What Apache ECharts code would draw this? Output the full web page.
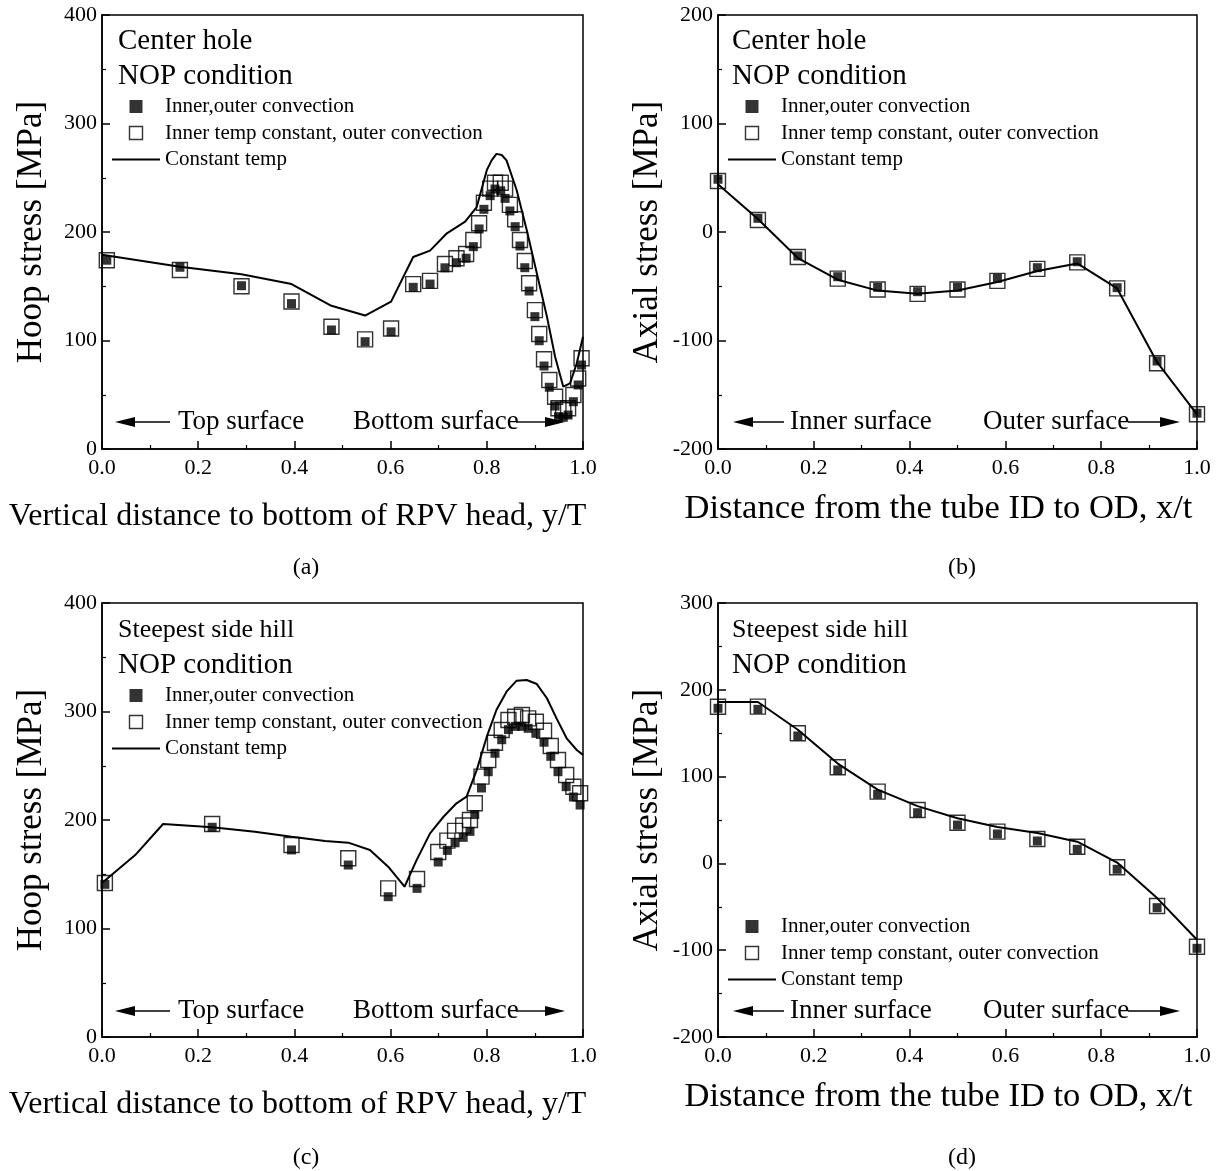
<!DOCTYPE html>
<html><head><meta charset="utf-8">
<script src="https://cdn.jsdelivr.net/npm/echarts@6/dist/echarts.min.js"></script>
<style>html,body{margin:0;padding:0;background:#fff}#c{width:1221px;height:1171px}</style>
</head><body><div id="c"></div>
<script>
// ---------- Panel (a): Center hole, hoop stress ----------
const aX = [0.01,0.162,0.29,0.394,0.477,0.547,0.601,0.647,0.682,0.713,0.737,0.757,0.772,0.784,0.794,0.807,0.817,0.829,0.838,0.848,0.859,0.869,0.879,0.888,0.9,0.909,0.919,0.93,0.942,0.949,0.959,0.969,0.98,0.99,0.997];
const aFilled = [174,167.5,150.5,134,109.7,98.9,108,149,152,167,171.7,175.8,186.5,202.8,220.9,233.5,239.6,238,231,219.4,204.9,187.1,167.1,145.6,122,99.8,76.5,56.9,39.6,29.8,29.2,31.3,43.6,59,77.4];
const aOpen = [174,165,150,136,112.7,101,111,152,155,170.5,175.8,179.7,192.6,208,227,240,245.4,245.4,240,225,211.7,192.6,173.3,152.7,128,106,82.7,63.6,48.2,37.5,36,37.5,49.8,65,83.6];
const aLineX = [0,0.162,0.29,0.394,0.477,0.547,0.601,0.647,0.682,0.717,0.755,0.779,0.8,0.81,0.82,0.831,0.841,0.862,0.883,0.904,0.925,0.942,0.959,0.973,0.987,1.0];
const aLine = [179,168,161,152,132,123,135.8,177,182.8,198.8,209.5,223,257,266,272,271,266,238.7,201.8,162,122,85,57.4,60.5,79,103.5];

// ---------- Panel (b): Center hole, axial stress ----------
const bX = [0,0.0833,0.1667,0.25,0.3333,0.4167,0.5,0.5833,0.6667,0.75,0.8333,0.9167,1.0];
const bFilled = [48.6,12.6,-22.1,-41.2,-51,-55,-51,-42.7,-32.9,-27.4,-51.3,-118.9,-167];
const bOpen = [47,11,-23,-43,-53,-57,-53,-45,-34,-28,-52,-121,-168];
const bLine = [44,12,-24,-44,-54,-57,-54,-46,-36,-29,-52,-120,-168];

// ---------- Panel (c): Steepest side hill, hoop stress ----------
const cX = [0.006,0.229,0.394,0.512,0.595,0.655,0.699,0.718,0.734,0.751,0.765,0.775,0.789,0.803,0.817,0.831,0.845,0.859,0.873,0.886,0.902,0.919,0.933,0.948,0.965,0.98,0.994];
const cFilled = [140.7,193.3,172.4,158.5,129.3,137,161.3,172,179,184,189.5,205,229.5,244.5,261.5,274,283.3,286.3,286.3,284.5,279.9,271.7,258.7,244.5,230.7,221.2,213.8];
const cOpen = [142,196.3,177,164.7,137,145.6,170.5,181,190,195,200,215.4,240,255.3,271.2,283,292.2,295.2,296.8,293.7,290.6,282.3,268.2,255.3,241.5,230.7,224.6];
const cLineX = [0,0.069,0.127,0.229,0.318,0.394,0.464,0.512,0.557,0.595,0.629,0.654,0.682,0.71,0.737,0.758,0.779,0.8,0.82,0.841,0.862,0.883,0.904,0.925,0.945,0.966,0.987,1.0];
const cLine = [142,167.7,196.3,193.3,189.2,184.6,180.6,179.1,172.4,157,138.5,163,187.7,203,215.4,221.5,246,276.8,301.4,318.3,328.4,329,325.3,312.2,293.7,275.3,264.5,260];

// ---------- Panel (d): Steepest side hill, axial stress ----------
const dX = [0,0.0833,0.1667,0.25,0.3333,0.4167,0.5,0.5833,0.6667,0.75,0.8333,0.9167,1.0];
const dFilled = [178.7,177.5,146.8,107.6,79.6,58.4,44.2,33.9,25.8,16.2,-6.8,-51,-97.8];
const dOpen = [180.5,180.6,149.9,110.7,82.7,61.5,46.9,36.6,28.1,19.2,-4.5,-49,-96];
const dLine = [186,186,154,115,85,66,52,42,35,25,1,-40,-88];

// ---------- Labels ----------
const S_FILLED = 'Inner,outer convection';
const S_OPEN = 'Inner temp constant, outer convection';
const S_LINE = 'Constant temp';
const xTitleHoop = 'Vertical distance to bottom of RPV head, y/T';
const xTitleAxial = 'Distance from the tube ID to OD, x/t';
const yTitleHoop = 'Hoop stress [MPa]';
const yTitleAxial = 'Axial stress [MPa]';
const panelTitles = [['Center hole','NOP condition'],['Center hole','NOP condition'],['Steepest side hill','NOP condition'],['Steepest side hill','NOP condition']];
const captions = ['(a)','(b)','(c)','(d)'];
const yRanges = [[0,400,100],[-200,200,100],[0,400,100],[-200,300,100]];

const F = 'Liberation Serif';
const zip = (xs, ys) => xs.map((x,i)=>[x, ys[i]]);

const grids = [
  {left:102, top:15, width:481, height:434},
  {left:718, top:15, width:479, height:434},
  {left:102, top:603, width:481, height:434},
  {left:718, top:603, width:479, height:434}
];

function xAxis(gi, name, shift, fs, gap){
  return {type:'value', gridIndex:gi, min:0, max:1, interval:0.2, name, nameLocation:'middle', nameGap:gap,
    nameTextStyle:{fontFamily:F, fontSize:fs, color:'#000', padding:[0, 2*shift, 0, 0]},
    axisLine:{show:true, onZero:false, lineStyle:{color:'#000', width:1.5}},
    axisTick:{show:true, inside:true, length:8, lineStyle:{color:'#000', width:1.5}},
    minorTick:{show:true, splitNumber:2, length:4, lineStyle:{color:'#000', width:1.2}},
    splitLine:{show:false},
    axisLabel:{fontFamily:F, fontSize:22, color:'#000', margin:8, formatter:v=>v.toFixed(1)}};
}
function yAxis(gi, name, r){
  return {type:'value', gridIndex:gi, min:r[0], max:r[1], interval:r[2], name, nameLocation:'middle', nameGap:53, nameRotate:90,
    nameTextStyle:{fontFamily:F, fontSize:35, color:'#000'},
    axisLine:{show:true, onZero:false, lineStyle:{color:'#000', width:1.5}},
    axisTick:{show:true, inside:true, length:8, lineStyle:{color:'#000', width:1.5}},
    minorTick:{show:true, splitNumber:2, length:4, lineStyle:{color:'#000', width:1.2}},
    splitLine:{show:false},
    axisLabel:{fontFamily:F, fontSize:22, color:'#000', margin:5}};
}

const panels = [
  {x:aX, f:aFilled, o:aOpen, lx:aLineX, l:aLine},
  {x:bX, f:bFilled, o:bOpen, lx:bX, l:bLine},
  {x:cX, f:cFilled, o:cOpen, lx:cLineX, l:cLine},
  {x:dX, f:dFilled, o:dOpen, lx:dX, l:dLine}
];

const series = [];
panels.forEach((p, i) => {
  series.push({type:'line', name:S_LINE, xAxisIndex:i, yAxisIndex:i, data:zip(p.lx, p.l), symbol:'none', showSymbol:false, z:1,
    lineStyle:{color:'#000', width:2}, itemStyle:{color:'#000'}, animation:false});
  series.push({type:'scatter', name:S_OPEN, xAxisIndex:i, yAxisIndex:i, data:zip(p.x, p.o), symbol:'rect', symbolSize:15, z:2,
    itemStyle:{color:'rgba(0,0,0,0)', borderColor:'#000', borderWidth:1.4}, animation:false});
  series.push({type:'scatter', name:S_FILLED, xAxisIndex:i, yAxisIndex:i, data:zip(p.x, p.f), symbol:'rect', symbolSize:9, z:3,
    itemStyle:{color:'#000'}, animation:false});
});

const SQ = 'path://M0,0L10,0L10,10L0,10Z';
const LN = 'path://M0,0L48,0L48,2L0,2Z';
const legendTops = [96, 96, 685, 916];
const legendLefts = [112, 728, 112, 728];
const legends = legendTops.map((t, i) => ({
  left: legendLefts[i], top: t, padding:0, orient:'vertical', itemGap:5.5, itemWidth:48, itemHeight:13, selectedMode:false,
  symbolKeepAspect:true,
  textStyle:{fontFamily:F, fontSize:21, color:'#000'},
  data:[
    {name:S_FILLED, icon:SQ, itemStyle:{color:'#000', borderWidth:0}},
    {name:S_OPEN, icon:SQ, itemStyle:{color:'#fff', borderColor:'#000', borderWidth:1.4}},
    {name:S_LINE, icon:LN, itemStyle:{color:'#000', borderWidth:0}}
  ]
}));

// ---------- Annotations (pixel layout) ----------
const graphic = [];
const titleX = [118, 732, 118, 732];
const titleY = [41, 41, 630, 630];
const titleFs = [29, 29, 26, 26];
panelTitles.forEach((t, i) => {
  graphic.push({type:'text', x:titleX[i], y:titleY[i], style:{text:t[0], font:`${titleFs[i]}px "${F}"`, fill:'#000', verticalAlign:'middle'}});
  graphic.push({type:'text', x:titleX[i], y:titleY[i]+35, style:{text:t[1], font:`29px "${F}"`, fill:'#000', verticalAlign:'middle'}});
});
const capPos = [[306,568],[962,568],[306,1158],[962,1158]];
captions.forEach((c, i) => {
  graphic.push({type:'text', x:capPos[i][0], y:capPos[i][1], style:{text:c, font:`24px "${F}"`, fill:'#000', align:'center', verticalAlign:'middle'}});
});
function arrowLeft(xh, xe, y){
  graphic.push({type:'polygon', shape:{points:[[xh,y],[xh+20,y-5],[xh+20,y+5]]}, style:{fill:'#000'}});
  graphic.push({type:'line', shape:{x1:xh+18, y1:y, x2:xe, y2:y}, style:{stroke:'#000', lineWidth:1.4}});
}
function arrowRight(xs, xh, y){
  graphic.push({type:'line', shape:{x1:xs, y1:y, x2:xh-18, y2:y}, style:{stroke:'#000', lineWidth:1.4}});
  graphic.push({type:'polygon', shape:{points:[[xh,y],[xh-20,y-5],[xh-20,y+5]]}, style:{fill:'#000'}});
}
function label(txt, x, y){
  graphic.push({type:'text', x, y, style:{text:txt, font:`27px "${F}"`, fill:'#000', align:'left', verticalAlign:'middle'}});
}
[[422],[1011]].forEach(([y]) => {
  arrowLeft(115, 170, y); label('Top surface', 178, y);
  label('Bottom surface', 353, y); arrowRight(516, 565, y);
  arrowLeft(733, 784, y); label('Inner surface', 790, y);
  label('Outer surface', 983, y); arrowRight(1128, 1180, y);
});

const option = {
  backgroundColor:'#fff', animation:false,
  grid: grids.map(g => Object.assign({show:true, borderColor:'#000', borderWidth:1.5, backgroundColor:'transparent'}, g)),
  xAxis: [xAxis(0, xTitleHoop, 45, 32, 52), xAxis(1, xTitleAxial, 19, 34.5, 42), xAxis(2, xTitleHoop, 45, 32, 52), xAxis(3, xTitleAxial, 19, 34.5, 42)],
  yAxis: [yAxis(0, yTitleHoop, yRanges[0]), yAxis(1, yTitleAxial, yRanges[1]), yAxis(2, yTitleHoop, yRanges[2]), yAxis(3, yTitleAxial, yRanges[3])],
  legend: legends,
  series,
  graphic
};
const chart = echarts.init(document.getElementById('c'), null, {renderer:'canvas'});
chart.setOption(option);
</script></body></html>
